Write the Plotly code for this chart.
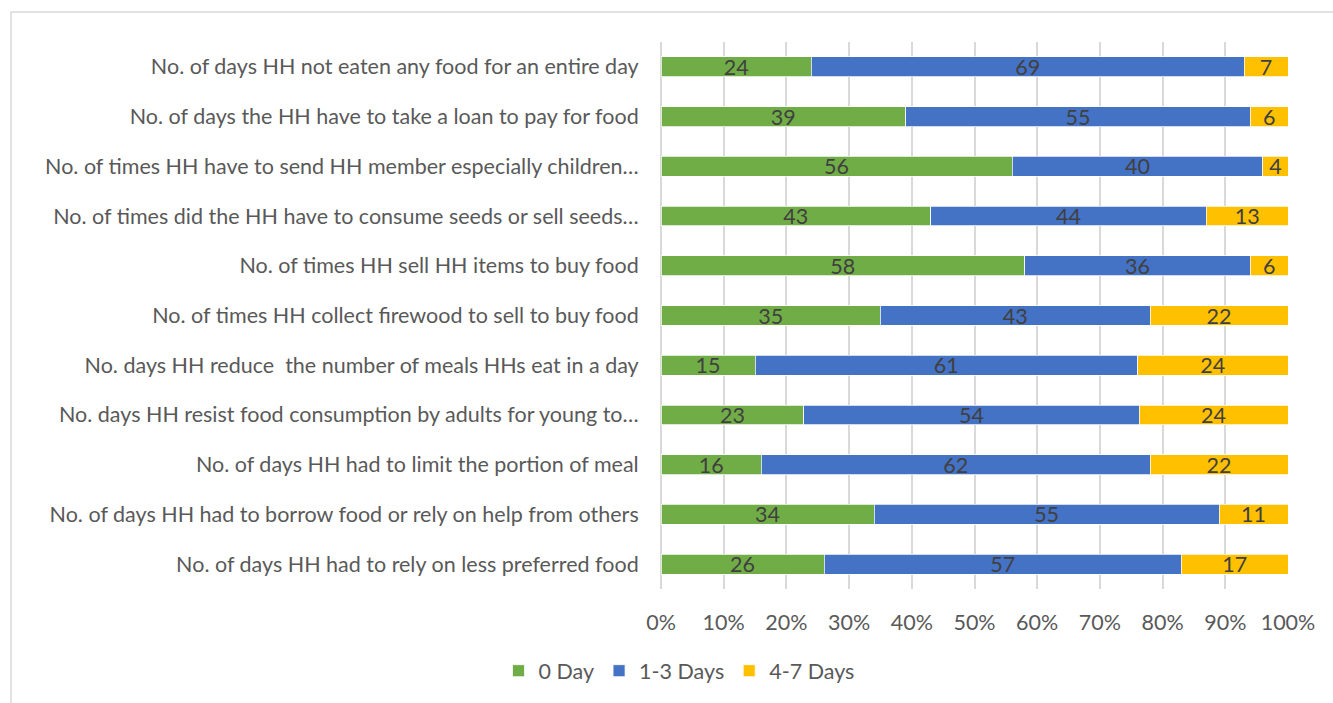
import plotly.graph_objects as go

categories = [
    "No. of days HH not eaten any food for an entire day",
    "No. of days the HH have to take a loan to pay for food",
    "No. of times HH have to send HH member especially children…",
    "No. of times did the HH have to consume seeds or sell seeds…",
    "No. of times HH sell HH items to buy food",
    "No. of times HH collect firewood to sell to buy food",
    "No. days HH reduce  the number of meals HHs eat in a day",
    "No. days HH resist food consumption by adults for young to…",
    "No. of days HH had to limit the portion of meal",
    "No. of days HH had to borrow food or rely on help from others",
    "No. of days HH had to rely on less preferred food",
]
zero_day = [24, 39, 56, 43, 58, 35, 15, 23, 16, 34, 26]
one_three_days = [69, 55, 40, 44, 36, 43, 61, 54, 62, 55, 57]
four_seven_days = [7, 6, 4, 13, 6, 22, 24, 24, 22, 11, 17]

series = [
    ("0 Day", zero_day, "#70AD47"),
    ("1-3 Days", one_three_days, "#4472C4"),
    ("4-7 Days", four_seven_days, "#FFC000"),
]

FONT = "Lato, Carlito, Calibri, sans-serif"
FS = 21.5

fig = go.Figure()
for name, vals, color in series:
    fig.add_trace(go.Bar(
        name=name,
        y=categories,
        x=vals,
        orientation="h",
        marker=dict(color=color, line=dict(color="white", width=0.75)),
        text=vals,
        texttemplate="%{text}",
        textposition="inside",
        insidetextanchor="middle",
        textangle=0,
        constraintext="none",
        cliponaxis=False,
        textfont=dict(family=FONT, size=FS, color="#404040"),
        hoverinfo="skip",
    ))

W, H = 1333, 703
L, R, T, B = 661, 45, 42, 112
pw, ph = W - L - R, H - T - B

def px_x(x):
    return (x - L) / pw

def px_y(y):
    return 1 - (y - T) / ph

fig.update_layout(
    width=W, height=H,
    barmode="stack",
    barnorm="percent",
    bargap=0.6,
    plot_bgcolor="white",
    paper_bgcolor="white",
    margin=dict(l=L, r=R, t=T, b=B),
    font=dict(family=FONT, size=FS, color="#595959"),
    showlegend=True,
    legend=dict(
        orientation="h",
        x=px_x(679), xanchor="center",
        y=px_y(673), yanchor="middle",
        font=dict(family=FONT, size=FS, color="#595959"),
        traceorder="normal",
        itemwidth=30,
    ),
    xaxis=dict(
        range=[0, 100],
        tick0=0, dtick=10,
        ticksuffix="%",
        showgrid=True,
        gridcolor="#D9D9D9",
        gridwidth=1.5,
        zeroline=True,
        zerolinecolor="#D9D9D9",
        zerolinewidth=1.5,
        showline=False,
        ticks="outside",
        ticklen=14,
        tickcolor="rgba(0,0,0,0)",
        tickfont=dict(family=FONT, size=FS, color="#595959"),
        fixedrange=True,
        automargin=False,
    ),
    yaxis=dict(
        autorange="reversed",
        showgrid=False,
        zeroline=False,
        showline=False,
        ticks="outside",
        ticklen=17,
        tickcolor="rgba(0,0,0,0)",
        tickfont=dict(family=FONT, size=FS, color="#595959"),
        fixedrange=True,
        automargin=False,
    ),
    shapes=[dict(
        type="rect", xref="paper", yref="paper",
        x0=px_x(11), x1=px_x(1345), y0=px_y(12), y1=px_y(715),
        line=dict(color="#D9D9D9", width=1.5),
        fillcolor="rgba(0,0,0,0)", layer="below",
    )],
)

fig.write_html("out.html", config={"displayModeBar": False})
